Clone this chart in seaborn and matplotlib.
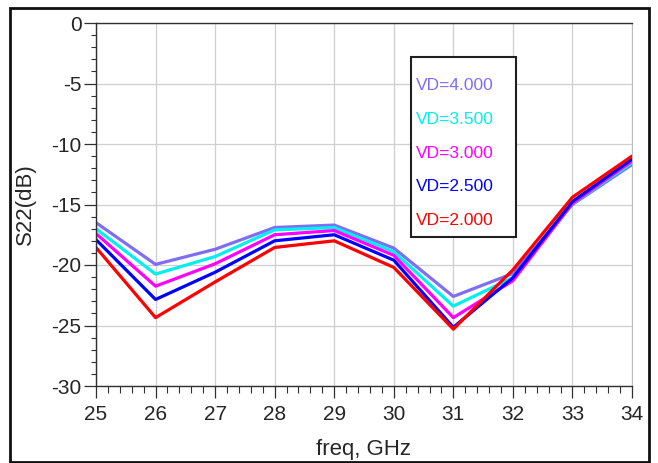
import pandas as pd
import seaborn as sns
import matplotlib.pyplot as plt
from matplotlib.patches import Rectangle
from matplotlib.ticker import MultipleLocator

# frequencias (GHz) e S22 (dB) para cada tensao de dreno
freq = [25, 26, 27, 28, 29, 30, 31, 32, 33, 34]
s22_vd40 = [-16.5, -19.95, -18.7, -16.9, -16.7, -18.6, -22.6, -20.7, -15.0, -11.7]
s22_vd35 = [-17.0, -20.75, -19.3, -17.1, -16.9, -18.9, -23.4, -21.05, -14.95, -11.55]
s22_vd30 = [-17.4, -21.75, -19.9, -17.5, -17.15, -19.2, -24.35, -21.3, -14.9, -11.4]
s22_vd25 = [-17.9, -22.85, -20.6, -18.0, -17.5, -19.6, -25.15, -21.05, -14.75, -11.25]
s22_vd20 = [-18.55, -24.35, -21.4, -18.55, -18.0, -20.2, -25.3, -20.4, -14.4, -11.0]

rotulos = ["VD=4.000", "VD=3.500", "VD=3.000", "VD=2.500", "VD=2.000"]
cores = ["#7F6EF2", "#00F0F0", "#FF00FF", "#0000FF", "#FF0000"]

series = [s22_vd40, s22_vd35, s22_vd30, s22_vd25, s22_vd20]
dados = pd.concat([pd.DataFrame({"freq": freq, "S22": s, "VD": r})
                   for r, s in zip(rotulos, series)])

sns.set_style("white")
plt.rcParams["font.family"] = ["Liberation Sans", "DejaVu Sans"]
plt.rcParams["axes.unicode_minus"] = False

fig = plt.figure(figsize=(6.58, 4.63), dpi=100)
ax = fig.add_axes([96/658, 1-386/463, 536/658, 363/463])

sns.lineplot(data=dados, x="freq", y="S22", hue="VD", hue_order=rotulos,
             palette=cores, linewidth=2.3, ax=ax, legend=True)

ax.set_xlim(25, 34)
ax.set_ylim(-30, 0)
ax.xaxis.set_major_locator(MultipleLocator(1))
ax.xaxis.set_minor_locator(MultipleLocator(0.2))
ax.yaxis.set_major_locator(MultipleLocator(5))
ax.yaxis.set_minor_locator(MultipleLocator(1))
ax.grid(True, which="major", color="#CFCFCF", linewidth=0.9)
ax.tick_params(which="both", bottom=True, left=True, top=False, right=False)
ax.tick_params(axis="both", which="major", direction="out", length=8.5,
               width=0.9, color="#303030", labelsize=15)
ax.tick_params(axis="x", which="major", pad=5)
ax.tick_params(axis="y", which="major", pad=2)
ax.tick_params(axis="x", which="minor", direction="out", length=5, width=0.8, color="#303030")
ax.tick_params(axis="y", which="minor", direction="out", length=3.6, width=0.8, color="#303030")

for lado in ["left", "bottom", "top"]:
    ax.spines[lado].set_color("#303030")
    ax.spines[lado].set_linewidth(1.0)
ax.spines["right"].set_color("#BBBBBB")

ax.set_xlabel("freq, GHz", fontsize=16)
ax.set_ylabel("S22(dB)", fontsize=16)
ax.xaxis.set_label_coords(0.5, -0.145)
ax.yaxis.set_label_coords(-0.112, 0.5)

# legenda so com texto colorido, dentro de uma caixa
handles, labels = ax.get_legend_handles_labels()
leg = ax.legend(handles, labels, loc="upper left",
                bbox_to_anchor=(416/658, 1-78/463), bbox_transform=fig.transFigure,
                handlelength=0, handletextpad=0, labelcolor="linecolor",
                fontsize=12.5, labelspacing=1.07, borderpad=0, borderaxespad=0,
                frameon=False)
for h in leg.legend_handles:
    h.set_visible(False)
ax.add_patch(Rectangle((411/658, 1-237/463), 105/658, 180/463,
                       transform=fig.transFigure, fill=True, facecolor="white",
                       edgecolor="#202020", linewidth=1.5, zorder=4))
leg.set_zorder(5)

# moldura em volta da figura
fig.patches.append(Rectangle((10/658, 1-462/463), 639/658, 454/463,
                             transform=fig.transFigure, fill=False,
                             edgecolor="#101010", linewidth=2))

fig.savefig("out.png", dpi=100)
